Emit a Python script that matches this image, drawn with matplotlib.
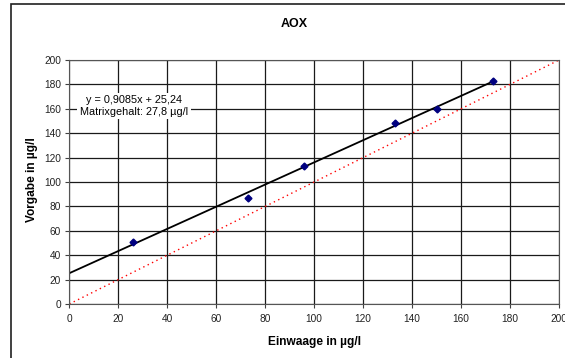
import matplotlib
matplotlib.use('Agg')
import matplotlib.pyplot as plt
from matplotlib.patches import Rectangle

plt.rcParams['font.family'] = ['Liberation Sans', 'DejaVu Sans']

# measured points (Einwaage, Vorgabe)
einwaage = [26, 73, 96, 133, 150, 173]
vorgabe = [51, 87, 113, 148, 160, 183]

# regression from the chart label
slope = 0.9085
intercept = 25.24
fit_x = [0, 173]
fit_y = [intercept + slope * v for v in fit_x]

# ideal line y = x
ideal_x = [0, 200]
ideal_y = [0, 200]

ticks = list(range(0, 201, 20))

W, H = 565, 358
fig = plt.figure(figsize=(W / 100, H / 100), dpi=100)
# chart border (right and bottom run off the image)
fig.patches.append(Rectangle((10.7 / W, -0.1), 1.2, 1 - 4.3 / H + 0.1,
                             transform=fig.transFigure, fill=False,
                             edgecolor='#202020', linewidth=1.2))

ax = fig.add_axes([69.3 / W, 1 - 304 / H, (559 - 69.3) / W, (304 - 60) / H])
ax.plot(ideal_x, ideal_y, color='red', linestyle=(0, (1, 2.5)), linewidth=1)
ax.plot(fit_x, fit_y, color='black', linewidth=1.3)
ax.plot(einwaage, vorgabe, 'D', color='#000080', markersize=3.5, linestyle='none')

ax.set_xlim(0, 200)
ax.set_ylim(0, 200)
ax.set_xticks(ticks)
ax.set_yticks(ticks)
ax.grid(True, color='#1a1a1a', linewidth=0.9)
ax.set_axisbelow(True)
for s in ax.spines.values():
    s.set_color('#555555')
ax.tick_params(labelsize=7.3, length=3, width=0.8, pad=3, color='#404040', labelcolor='#222222')
ax.tick_params(axis='x', pad=4.5)

fig.text(315 / W, 1 - 341.7 / H, 'Einwaage in µg/l', fontsize=8.6, fontweight='bold',
         ha='center', va='center')
fig.text(31.7 / W, 1 - 180 / H, 'Vorgabe in µg/l', fontsize=8.6, fontweight='bold',
         ha='center', va='center', rotation=90)
fig.text(294 / W, 1 - 24 / H, 'AOX', fontsize=9, fontweight='bold', ha='center', va='center')

ax.text(26.4, 162.3, 'y = 0,9085x + 25,24\nMatrixgehalt: 27,8 µg/l', fontsize=7.8,
        ha='center', va='center', linespacing=1.15,
        bbox=dict(facecolor='white', edgecolor='none', pad=2))

fig.savefig('out.png', dpi=100)
